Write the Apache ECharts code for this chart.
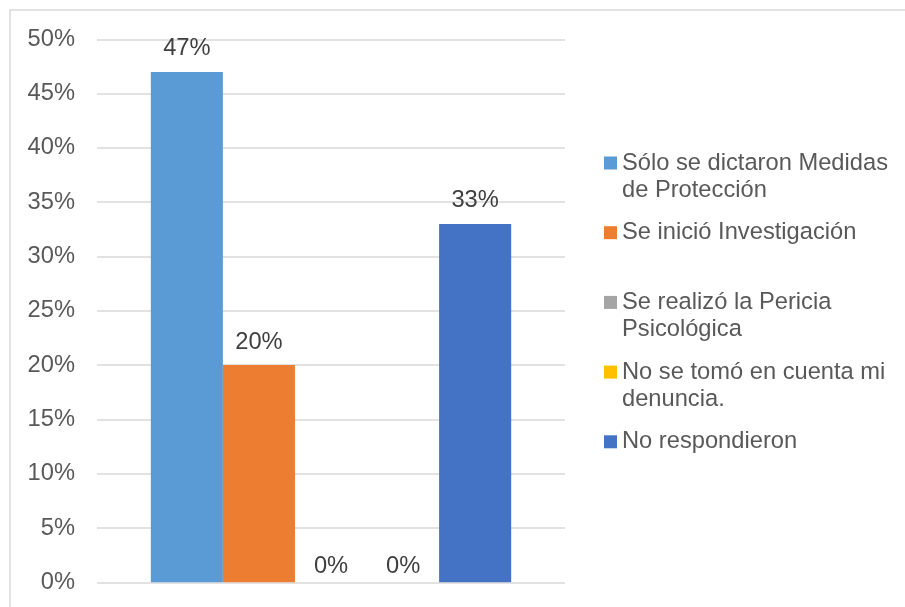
<!DOCTYPE html>
<html>
<head>
<meta charset="utf-8">
<script src="https://cdn.jsdelivr.net/npm/echarts@6/dist/echarts.min.js"></script>
<style>
html,body{margin:0;padding:0;background:#fff;}
#chart{width:905px;height:607px;}
</style>
</head>
<body>
<div id="chart"></div>
<script>
var categories = [''];
var seriesNames = [
  'Sólo se dictaron Medidas\nde Protección',
  'Se inició Investigación',
  'Se realizó la Pericia\nPsicológica',
  'No se tomó en cuenta mi\ndenuncia.',
  'No respondieron'
];
var seriesValues = [47, 20, 0, 0, 33];
var seriesColors = ['#5B9BD5', '#ED7D31', '#A5A5A5', '#FFC000', '#4472C4'];
var yTicks = { min: 0, max: 50, interval: 5 };

var FONT = 'Liberation Sans, Arial, sans-serif';
var FS = 23.7;

var chart = echarts.init(document.getElementById('chart'), null, {renderer: 'canvas'});

var series = seriesNames.map(function (name, i) {
  return {
    type: 'bar',
    name: name,
    data: [seriesValues[i]],
    barGap: '0%',
    barCategoryGap: '23%',
    itemStyle: { color: seriesColors[i] },
    label: {
      show: true,
      position: 'top',
      distance: seriesValues[i] === 0 ? 4 : 11,
      formatter: '{c}%',
      color: '#404040',
      fontFamily: FONT,
      fontSize: FS
    }
  };
});

chart.setOption({
  animation: false,
  backgroundColor: '#fff',
  textStyle: { fontFamily: FONT },
  graphic: [{
    type: 'rect',
    shape: { x: 10, y: 10, width: 905, height: 610 },
    style: { fill: 'none', stroke: '#d9d9d9', lineWidth: 1.5 },
    silent: true
  }],
  grid: { left: 97, right: 340, top: 39.3, bottom: 24.7 },
  legend: {
    orient: 'vertical',
    left: 604,
    top: 122.5,
    padding: 0,
    itemWidth: 13,
    itemHeight: 13,
    itemGap: -11.3,
    icon: 'rect',
    textStyle: {
      fontFamily: FONT,
      fontSize: FS,
      color: '#595959',
      lineHeight: 27
    },
    formatter: function (name) {
      var t = name.indexOf('\n') >= 0 ? name : name + '\n ';
      return ' \n' + t;
    },
    data: seriesNames
  },
  xAxis: {
    type: 'category',
    data: categories,
    axisLine: { show: false },
    axisTick: { show: false },
    axisLabel: { show: false }
  },
  yAxis: {
    type: 'value',
    min: yTicks.min,
    max: yTicks.max,
    interval: yTicks.interval,
    axisLine: { show: false },
    axisTick: { show: false },
    axisLabel: {
      formatter: '{value}%',
      color: '#595959',
      fontFamily: FONT,
      fontSize: FS,
      margin: 22
    },
    splitLine: { lineStyle: { color: '#d9d9d9', width: 1.5 } }
  },
  series: series
});
</script>
</body>
</html>
